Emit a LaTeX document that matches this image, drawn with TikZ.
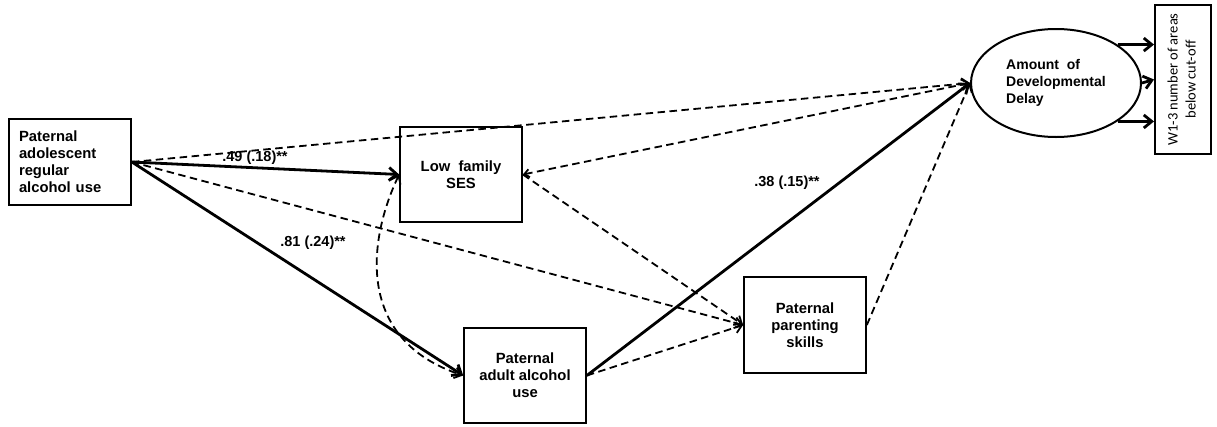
\documentclass[tikz,border=0pt]{standalone}
\usepackage{fontspec}
\setmainfont{Liberation Sans}
\newfontfamily\calib{Carlito}
\usetikzlibrary{arrows.meta,shapes.geometric}
\begin{document}
\begin{tikzpicture}[x=1pt,y=-1pt,
  box/.style={draw,line width=1.7pt,inner sep=0pt,minimum width=122pt,minimum height=95pt,align=center,font=\fontsize{14.8}{16.9}\selectfont\bfseries},
  solidarr/.style={line width=2.8pt,-{Straight Barb[length=8pt,width=13pt]}},
  dasharr/.style={line width=1.8pt,dash pattern=on 7.5pt off 4.5pt,-{Straight Barb[length=7pt,width=11pt]}},
  lab/.style={font=\fontsize{14.5}{16}\selectfont\bfseries}]
\useasboundingbox (0,0) rectangle (1217,426);
\node[box,minimum height=86pt,align=left,text width=102pt,inner xsep=10pt] (A) at (70,162) {Paternal\\adolescent\\regular\\alcohol use};
\node[box] (SES) at (461,174.5) {Low~~family\\SES};
\node[box] (Adult) at (525,375.5) {Paternal\\adult alcohol\\use};
\node[box,minimum height=96pt] (Par) at (805,325) {Paternal\\parenting\\skills};
\node[draw,ellipse,line width=2pt,inner sep=0pt,minimum width=170pt,minimum height=108pt,align=left,font=\fontsize{14}{16.7}\selectfont\bfseries] (E) at (1056,83) {Amount~ of\\Developmental\\Delay};
\node[draw,line width=2pt,inner sep=0pt,minimum width=56pt,minimum height=149pt,font=\calib\fontsize{14.5}{18}\selectfont] (W) at (1183,79.5) {\rotatebox{90}{\begin{tabular}{@{}c@{}}W1-3 number of areas\\below cut-off\end{tabular}}};
\draw[solidarr] (A.east) -- (SES.west);
\draw[solidarr] (A.east) -- (Adult.west);
\draw[dasharr] (A.east) -- (E.west);
\draw[dasharr] (A.east) -- (Par.west);
\draw[dasharr,{Straight Barb[length=5pt,width=8pt]}-{Straight Barb[length=7pt,width=11pt]}] (SES.east) -- (E.west);
\draw[dasharr] (SES.east) -- (Par.west);
\draw[dasharr] (Adult.east) -- (Par.west);
\draw[solidarr] (Adult.east) -- (E.west);
\draw[dasharr] (Par.east) -- (E.west);
\draw[dasharr,{Straight Barb[length=7pt,width=11pt]}-{Straight Barb[length=7pt,width=11pt]}] (SES.west) .. controls (368,240) and (355,340) .. (Adult.west);
\draw[solidarr] (E.32) -- (E.32 -| W.west);
\draw[solidarr] (E.east) -- (W.west);
\draw[solidarr] (E.-32) -- (E.-32 -| W.west);
\node[lab] (l1) at (255,158) {.49 (.18)**};
\node[lab] (l2) at (313,243) {.81 (.24)**};
\node[lab] (l3) at (787,183) {.38 (.15)**};
\end{tikzpicture}
\end{document}
